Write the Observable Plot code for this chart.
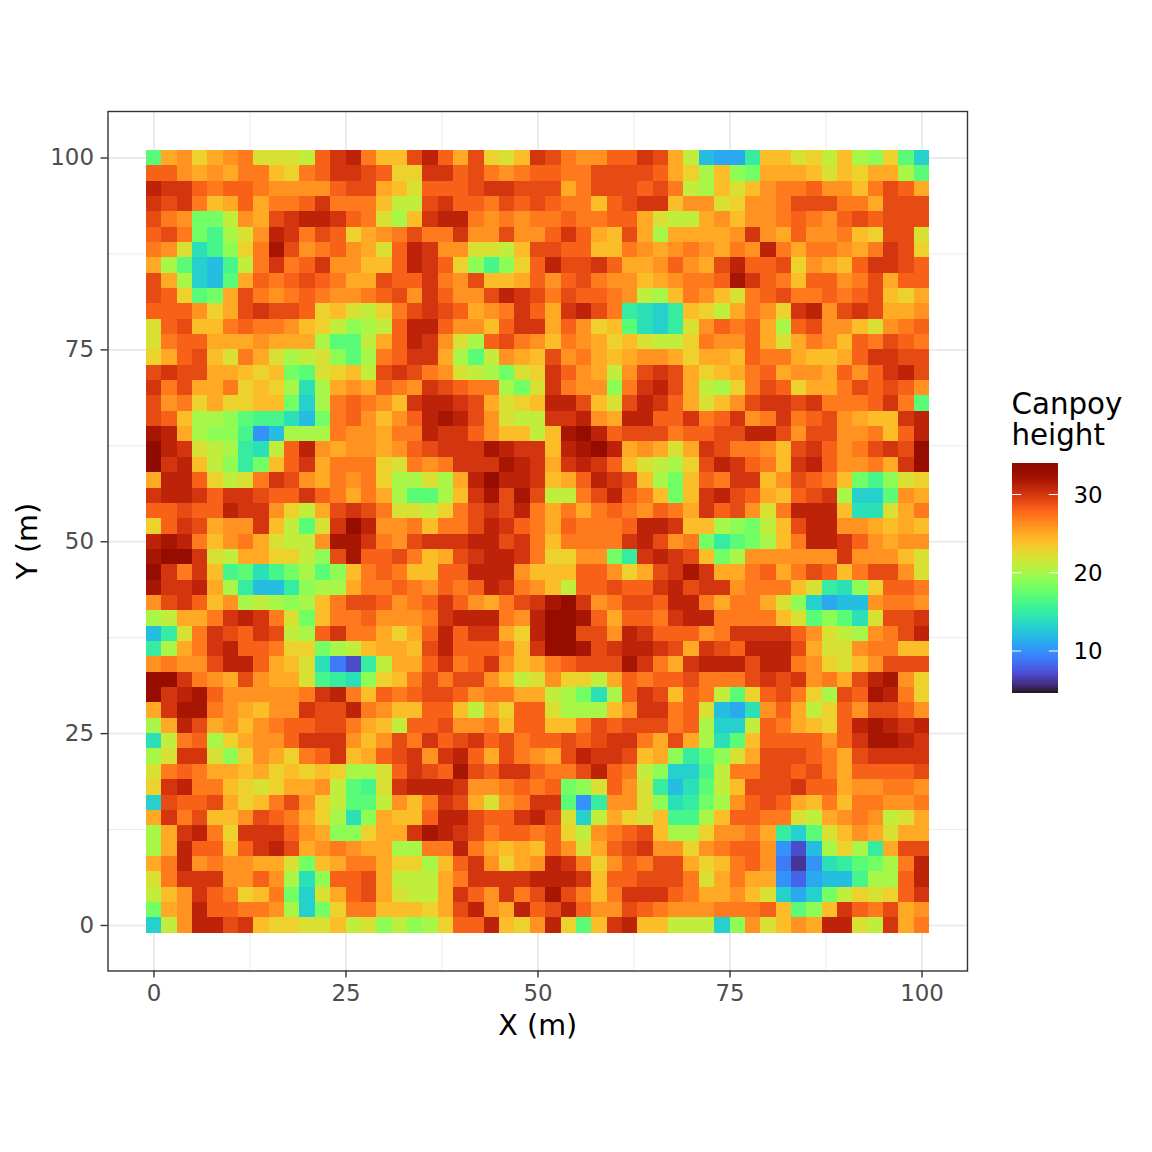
<!DOCTYPE html>
<html>
<head>
<meta charset="utf-8">
<script src="https://cdn.jsdelivr.net/npm/d3@7"></script>
<script src="https://cdn.jsdelivr.net/npm/@observablehq/plot@0.6"></script>
<style>
html,body{margin:0;padding:0;background:#fff;}
#page{position:relative;width:1152px;height:1152px;overflow:hidden;font-family:"DejaVu Sans",sans-serif;}
#page svg{position:absolute;max-width:none;background:transparent;}
</style>
</head>
<body>
<div id="page"></div>
<script>
// Canopy height (m) in 2 m blocks, north row first.
const westHalf = [
[17,25,26,23,25,26,27,22,22,22,21,28,30,31,27,24,24,29,31,28,25,29,23,22,24,30],
[28,28,26,25,26,25,27,27,24,23,27,28,30,30,29,28,23,23,30,30,28,29,27,26,27,28],
[31,30,30,28,27,28,28,27,26,26,26,26,28,29,29,25,24,22,28,28,28,29,30,30,29,29],
[30,29,30,27,24,25,28,25,27,27,28,30,27,27,27,24,21,21,29,30,28,28,27,29,28,29],
[29,27,26,18,18,21,26,25,29,30,31,31,30,28,27,22,20,24,30,31,31,27,26,27,26,27],
[28,29,27,18,16,20,22,26,31,30,27,29,28,23,25,26,27,29,27,27,30,26,26,29,26,26],
[27,26,22,14,16,19,23,27,32,29,26,27,28,26,25,22,28,31,30,26,26,22,22,21,24,29],
[25,20,17,13,12,16,21,27,30,27,28,30,26,26,24,24,28,31,30,28,23,19,16,19,23,28],
[29,25,20,13,12,17,25,28,27,28,29,28,27,25,25,29,28,28,30,27,26,29,24,24,25,28],
[29,28,23,17,18,25,29,27,26,27,28,27,26,26,27,28,29,26,30,28,26,26,29,31,30,29],
[28,28,28,26,23,25,29,30,29,29,28,23,24,22,21,23,27,29,30,29,28,25,26,27,30,28],
[22,28,29,24,24,27,28,27,27,26,24,23,21,19,20,21,28,31,31,28,26,26,24,28,30,30],
[22,27,28,28,25,25,25,26,25,25,25,20,17,17,21,25,28,31,30,26,22,20,28,29,27,26],
[23,25,28,29,24,22,27,25,22,20,21,22,19,17,20,27,28,30,30,25,20,17,21,26,25,24],
[29,30,29,29,25,25,24,23,24,18,17,22,23,24,21,29,30,29,27,26,22,21,20,18,22,23],
[30,27,29,25,25,27,23,24,23,20,14,20,25,26,25,28,27,26,30,29,28,27,27,20,18,22],
[29,26,27,23,25,23,23,24,24,18,13,20,27,28,27,26,24,30,31,31,30,29,25,22,23,24],
[29,28,24,20,20,19,17,16,16,14,12,18,27,28,26,24,26,28,31,32,31,29,26,22,21,21],
[32,31,25,20,19,19,16,10,12,20,20,20,27,26,26,25,27,27,31,30,30,28,26,24,24,21],
[34,31,30,22,21,20,15,14,21,28,31,26,25,26,26,25,26,28,29,30,30,30,32,31,30,30],
[34,30,31,24,21,19,15,18,24,28,30,25,27,27,27,23,22,27,26,27,30,30,30,32,31,30],
[25,31,31,28,23,21,22,27,30,29,26,25,27,26,27,23,20,20,22,20,25,31,33,31,31,30],
[30,31,31,30,28,30,30,29,28,28,30,28,27,25,27,25,20,17,17,20,24,30,32,29,32,29],
[28,28,29,28,28,31,30,30,26,23,21,25,29,30,29,27,22,22,21,23,27,29,30,29,31,27],
[23,28,30,29,25,26,26,30,24,21,17,22,30,33,31,26,26,27,24,27,27,29,31,30,28,27],
[31,32,31,27,24,26,27,25,22,21,21,26,32,32,30,27,26,29,30,30,30,31,31,29,30,27],
[32,33,33,30,22,21,25,25,23,23,21,19,29,32,28,28,29,27,24,25,29,30,31,31,30,27],
[33,30,27,30,24,16,17,14,16,18,20,17,19,24,27,28,27,24,24,28,28,31,31,31,26,24],
[32,30,30,31,25,20,15,12,12,15,19,20,20,25,27,27,28,27,26,28,27,28,31,30,27,26],
[26,29,30,28,24,26,20,21,20,19,20,24,27,29,29,28,26,27,28,30,28,26,25,27,29,30],
[20,21,25,25,27,30,31,30,27,22,18,24,27,27,28,26,26,26,27,30,31,31,31,27,26,31],
[12,15,22,27,30,29,28,30,29,21,20,28,30,27,27,25,23,25,28,31,28,30,30,25,23,31],
[15,20,25,27,30,31,28,28,27,23,23,18,20,21,24,25,25,24,29,31,28,28,28,27,24,30],
[26,27,26,26,29,31,31,28,25,24,22,14,9,7,15,21,25,25,28,30,27,28,30,26,24,25],
[33,33,30,27,26,25,29,26,25,25,22,16,15,14,19,23,24,27,29,27,29,29,26,24,21,22],
[33,30,31,32,28,26,26,26,26,26,27,30,31,27,24,28,27,28,29,29,28,26,27,27,25,25],
[25,30,32,32,27,26,25,24,26,26,30,29,29,31,27,26,24,24,28,28,24,21,25,23,28,28],
[20,25,31,29,25,26,24,26,27,28,28,29,29,27,25,24,21,28,28,29,26,26,27,24,28,28],
[14,21,27,28,20,23,25,26,26,28,30,30,30,26,24,26,29,27,30,28,29,30,28,29,27,28],
[20,22,30,30,22,19,23,26,25,23,27,28,30,24,25,28,29,30,26,30,31,28,25,29,27,26],
[22,27,28,27,25,25,24,25,23,24,23,24,23,20,20,22,28,30,29,28,32,29,28,30,30,28],
[23,30,31,27,27,24,23,22,23,25,25,26,21,17,16,22,30,31,31,31,30,26,26,27,28,27],
[13,29,28,28,29,25,23,24,27,29,26,23,21,17,17,21,26,24,27,30,29,25,22,26,27,30],
[25,30,27,29,24,24,26,29,28,27,25,23,20,14,19,25,24,24,28,31,31,29,28,28,30,31],
[20,25,30,31,27,23,30,30,30,28,26,25,19,19,23,25,25,30,32,31,30,29,27,28,28,27],
[20,25,31,28,28,24,28,30,31,29,25,26,27,26,25,25,20,20,27,27,31,27,25,24,25,24],
[25,27,31,26,27,26,26,25,25,22,18,24,25,27,27,25,23,23,20,24,28,30,26,23,25,26],
[22,27,30,30,30,26,26,28,26,20,14,19,28,28,29,25,21,21,21,25,27,30,30,30,30,31],
[21,24,26,30,28,27,23,24,27,18,13,22,25,28,29,25,22,21,21,25,30,28,26,30,27,29],
[18,25,26,31,28,28,27,27,26,20,13,18,23,27,27,24,24,24,23,25,29,31,26,25,31,28],
[13,21,26,31,31,29,30,24,23,23,22,22,24,21,22,19,21,19,20,23,28,28,31,24,23,26]
];
const eastHalf = [
[29,27,26,26,28,28,30,29,25,21,12,11,11,15,24,24,22,23,21,24,20,19,23,17,13],
[28,27,27,29,29,29,29,28,25,23,20,24,19,18,25,25,25,24,22,24,23,25,25,20,17],
[29,25,27,29,29,29,28,29,27,21,20,24,22,24,26,27,27,28,26,26,24,27,29,28,25],
[28,27,27,24,28,29,30,30,24,26,26,22,23,26,26,27,29,29,29,27,27,25,29,29,29],
[27,28,27,27,28,28,25,22,21,21,25,26,24,26,26,27,28,27,26,28,29,28,29,29,29],
[28,30,28,25,24,29,25,20,25,25,25,25,26,30,26,25,28,26,26,27,24,23,29,29,22],
[29,28,28,24,24,27,26,25,26,27,26,25,27,26,31,27,25,27,27,26,25,27,30,29,23],
[31,29,29,30,28,25,25,26,28,26,25,29,31,28,28,29,23,26,25,24,28,30,30,29,28],
[26,28,29,27,26,26,24,25,26,27,27,28,32,30,28,27,24,28,28,26,27,29,25,28,28],
[27,29,28,28,27,26,21,20,24,27,26,24,22,27,28,29,27,27,28,27,28,29,24,23,25],
[25,30,31,29,27,15,14,13,15,24,23,21,25,27,26,23,30,31,26,29,30,29,25,25,26],
[25,28,26,23,24,17,14,13,15,22,26,28,27,28,25,20,28,29,26,26,24,22,26,27,28],
[24,27,26,25,23,24,22,21,21,23,27,26,26,28,25,22,25,27,26,24,28,27,29,28,27],
[29,26,27,25,24,25,26,26,25,23,25,25,24,28,27,27,25,24,24,25,28,30,30,29,29],
[30,28,26,25,21,26,29,30,29,25,23,24,25,27,28,25,26,26,25,28,26,28,30,31,29],
[30,27,26,26,19,27,30,31,29,25,21,20,23,27,29,28,23,25,25,27,29,28,29,28,26],
[31,31,29,24,22,29,31,30,28,25,22,24,26,29,30,30,29,30,27,27,27,28,30,27,17],
[30,30,31,26,25,31,31,28,28,30,27,28,30,26,27,30,27,28,29,26,25,24,24,30,31],
[24,32,33,31,28,29,29,29,27,28,28,29,29,31,31,29,26,29,29,26,26,27,24,28,31],
[24,31,32,33,31,25,26,25,22,25,30,29,27,27,26,24,29,30,28,26,27,29,30,29,33],
[25,30,31,30,28,24,22,21,20,23,29,31,30,28,27,24,30,31,28,26,26,27,25,30,33],
[24,25,28,31,30,29,24,20,18,24,28,27,30,30,24,26,29,28,27,24,18,16,19,22,23],
[21,21,27,29,31,28,27,24,18,24,30,31,29,28,25,24,28,29,30,20,13,13,17,26,25],
[25,27,25,27,28,27,26,28,27,25,30,28,29,26,22,27,31,31,31,24,14,14,22,25,27],
[25,28,27,27,27,28,31,31,30,24,24,20,19,18,21,24,29,31,31,26,26,25,24,25,24],
[24,27,27,27,27,30,31,29,26,27,18,15,17,18,20,24,27,31,31,30,28,26,25,26,26],
[23,23,26,26,18,15,30,31,30,29,24,18,20,26,26,26,26,26,26,30,26,26,26,24,22],
[24,24,28,28,26,23,25,29,30,32,30,25,25,27,28,25,27,29,28,24,27,29,29,26,22],
[24,21,28,28,29,28,28,30,31,29,30,30,26,27,27,27,24,22,15,14,19,23,28,28,27],
[32,33,30,26,27,29,29,28,31,31,27,25,27,27,25,22,19,13,11,12,12,26,27,27,26],
[33,33,32,28,25,28,28,27,30,31,31,27,27,27,27,24,22,17,19,17,14,22,29,29,30],
[33,33,29,29,26,31,30,28,28,28,26,27,30,30,30,30,28,26,22,21,20,26,27,29,31],
[33,33,32,29,30,31,31,30,29,25,30,29,28,31,31,31,29,25,22,22,26,27,27,24,24],
[27,28,29,29,29,32,30,27,25,30,31,31,31,29,31,31,27,26,23,22,24,26,29,29,29],
[26,23,23,21,25,28,27,28,28,29,27,27,27,29,30,29,30,26,27,25,29,31,32,26,23],
[21,20,18,14,20,28,30,29,24,28,27,21,17,23,28,29,27,23,20,29,28,32,31,27,23],
[22,20,20,20,24,26,30,30,27,28,22,12,11,14,26,28,25,21,23,28,26,29,29,28,26],
[24,24,27,29,28,29,29,29,27,28,20,13,13,21,28,27,25,24,23,28,31,32,31,30,31],
[28,29,28,29,30,30,27,25,29,25,20,14,17,24,28,28,28,28,26,28,30,32,32,31,30],
[25,29,31,30,30,29,24,25,19,15,17,19,22,25,29,29,29,28,27,25,29,30,30,30,30],
[27,27,29,31,28,27,21,19,13,13,16,21,27,27,29,29,28,29,27,25,28,28,28,28,29],
[28,18,19,22,28,26,22,15,12,14,17,21,24,29,29,29,30,28,28,25,26,26,27,27,26],
[30,17,10,15,26,26,22,19,14,15,18,20,26,28,29,28,25,24,27,24,27,27,26,26,27],
[29,22,13,21,25,23,22,24,16,16,20,24,28,28,27,27,22,21,25,26,27,26,21,22,25],
[28,23,21,26,27,28,29,24,20,20,23,26,26,27,25,15,13,17,22,24,26,25,22,25,25],
[28,26,22,25,28,29,30,26,26,23,26,27,28,28,26,10,7,12,20,23,20,15,25,29,29],
[31,30,27,23,26,28,27,29,29,25,23,24,27,28,26,9,6,10,14,15,17,18,20,27,31],
[31,31,30,24,28,28,29,29,29,27,22,25,27,25,25,10,8,11,12,12,16,20,20,28,31],
[32,29,27,24,27,30,30,30,28,27,25,25,26,24,22,13,11,13,18,21,23,22,23,28,30],
[29,31,28,26,26,29,28,27,26,26,26,27,27,27,28,24,17,19,24,30,28,27,29,25,26],
[31,23,17,24,30,31,24,24,21,21,21,13,19,26,22,24,26,25,31,31,22,21,30,25,27]
];
const blockSize = 2;
const plotWest = -1;
const plotNorth = 101;
const majorTicks = [0,25,50,75,100];
const minorTicks = [12.5,37.5,62.5,87.5];
const legendTicks = [10,20,30];
const colorDomain = [4.57,34.03];
const xTitle = "X (m)";
const yTitle = "Y (m)";
const legendTitle = "Canpoy\nheight";

const cells = westHalf.flatMap((row,i)=>row.concat(eastHalf[i]).map((h,j)=>({
  x1: plotWest+j*blockSize, x2: plotWest+(j+1)*blockSize,
  y2: plotNorth-i*blockSize, y1: plotNorth-(i+1)*blockSize, h
})));

const colorScale = {type:"linear", scheme:"turbo", domain:colorDomain};

const main = Plot.plot({
  width:1152, height:1152,
  marginLeft:107.5, marginRight:185, marginTop:111, marginBottom:181.5,
  style:{fontFamily:"'DejaVu Sans',sans-serif", background:"transparent"},
  x:{domain:[-5.99,105.92], label:null},
  y:{domain:[-5.93,106.06], label:null},
  color:colorScale,
  marks:[
    Plot.ruleX(minorTicks,{stroke:"#ebebeb",strokeWidth:1}),
    Plot.ruleY(minorTicks,{stroke:"#ebebeb",strokeWidth:1}),
    Plot.ruleX(majorTicks,{stroke:"#ebebeb",strokeWidth:2}),
    Plot.ruleY(majorTicks,{stroke:"#ebebeb",strokeWidth:2}),
    Plot.rect(cells,{x1:"x1",x2:"x2",y1:"y1",y2:"y2",fill:"h",inset:0,shapeRendering:"crispEdges"}),
    Plot.frame({stroke:"#333333",strokeWidth:1.4}),
    Plot.axisX(majorTicks,{anchor:"bottom",tickSize:7,tickPadding:7,stroke:"#333333",strokeWidth:1.4,color:"#4d4d4d",fontSize:22.9,label:null,tickFormat:d=>String(d)}),
    Plot.axisY(majorTicks,{anchor:"left",tickSize:7,tickPadding:7,stroke:"#333333",strokeWidth:1.4,color:"#4d4d4d",fontSize:22.9,label:null,tickFormat:d=>String(d)}),
    Plot.text([xTitle],{frameAnchor:"bottom",dy:64,fontSize:28.6,fill:"#000",textAnchor:"middle"}),
    Plot.text([yTitle],{frameAnchor:"left",dx:-80,rotate:-90,fontSize:28.6,fill:"#000",textAnchor:"middle"})
  ]
});
main.style.left="0px"; main.style.top="0px";
document.getElementById("page").appendChild(main);

const levelStep = 0.2;
const legendLevels = d3.range(colorDomain[0],colorDomain[1],levelStep);
const legend = Plot.plot({
  width:160, height:330,
  marginLeft:22, marginRight:92, marginTop:82.5, marginBottom:17,
  style:{fontFamily:"'DejaVu Sans',sans-serif", background:"transparent"},
  x:{domain:[0,1],axis:null},
  y:{domain:colorDomain,axis:null},
  color:colorScale,
  marks:[
    Plot.rect(legendLevels,{x1:0,x2:1,y1:d=>d,y2:d=>Math.min(d+levelStep,colorDomain[1]),fill:d=>d+levelStep/2,inset:0,shapeRendering:"crispEdges"}),
    Plot.ruleY(legendTicks,{x1:0,x2:0.2,stroke:"#fff",strokeWidth:1}),
    Plot.ruleY(legendTicks,{x1:0.8,x2:1,stroke:"#fff",strokeWidth:1}),
    Plot.text(legendTicks,{x:1,y:d=>d,dx:15,dy:1,text:d=>String(d),textAnchor:"start",fontSize:22.9,fill:"#000"}),
    Plot.text([legendTitle],{frameAnchor:"top-left",dx:-1,dy:-71,fontSize:29.3,lineHeight:1.06,fill:"#000",textAnchor:"start",lineAnchor:"top"})
  ]
});
legend.style.left="990px"; legend.style.top="380px";
document.getElementById("page").appendChild(legend);
</script>
</body>
</html>
